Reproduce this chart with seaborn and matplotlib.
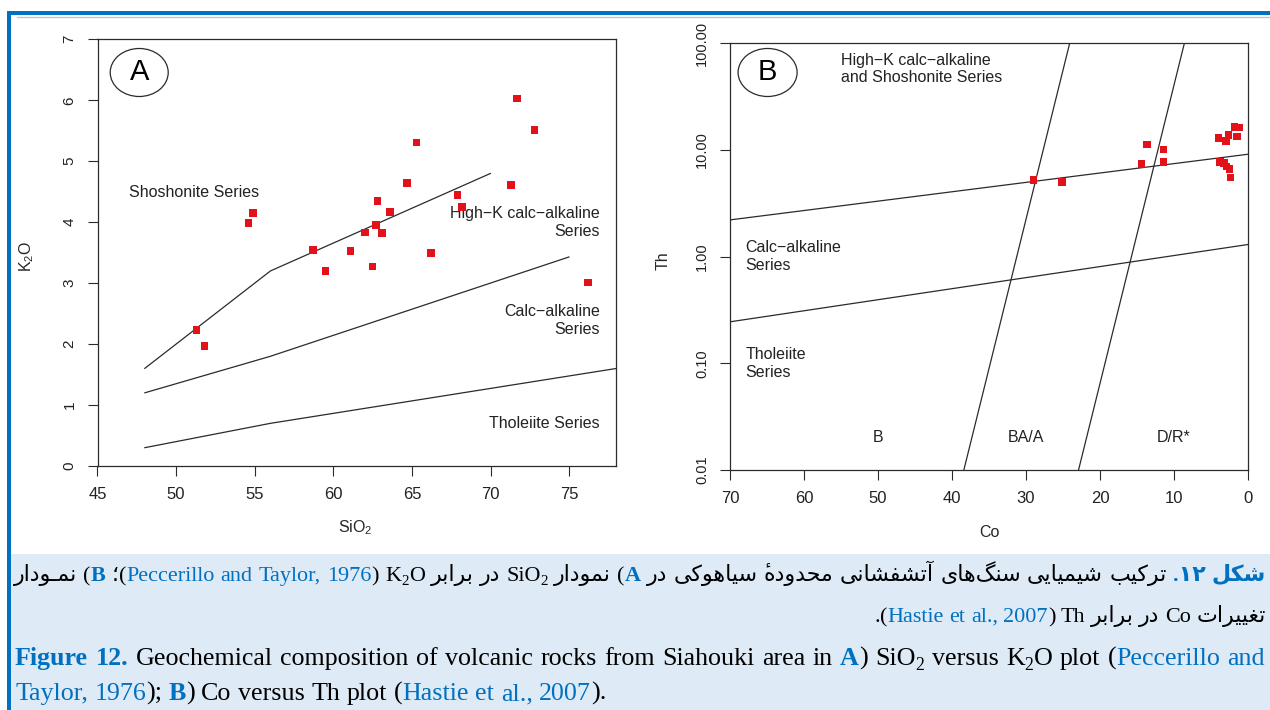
import numpy as np
import pandas as pd
import matplotlib
matplotlib.use("Agg")
import matplotlib.pyplot as plt
import seaborn as sns
from matplotlib.patches import Ellipse, Rectangle
from matplotlib.lines import Line2D
from matplotlib.ticker import NullLocator, FixedLocator, FixedFormatter

# ---------------- data ----------------
# Panel A : SiO2 vs K2O (Peccerillo & Taylor, 1976)
sio2 = [71.7, 72.8, 65.3, 64.7, 67.9, 68.2, 71.3, 62.8, 63.6, 54.9, 54.6,
        62.7, 62.0, 63.1, 58.7, 61.1, 66.2, 59.5, 62.5, 76.2, 51.3, 51.8]
k2o = [6.03, 5.51, 5.31, 4.64, 4.45, 4.25, 4.61, 4.35, 4.17, 4.15, 3.99,
       3.95, 3.83, 3.82, 3.54, 3.53, 3.49, 3.20, 3.27, 3.01, 2.23, 1.97]

shosh_x = [48, 56, 70]
shosh_y = [1.6, 3.2, 4.8]
highk_x = [48, 56, 75]
highk_y = [1.2, 1.8, 3.43]
thol_x = [48, 56, 78]
thol_y = [0.3, 0.7, 1.6]

# Panel B : Co vs Th (Hastie et al., 2007)
co = [29.0, 25.1, 14.4, 13.65, 11.4, 11.4, 4.0, 3.0, 2.65, 1.85, 1.25, 1.5,
      3.8, 3.24, 2.88, 2.52, 2.34]
th = [5.23, 4.98, 7.40, 11.3, 10.07, 7.67, 12.9, 12.2, 13.8, 16.5, 16.3, 13.4,
      7.76, 7.50, 6.98, 6.64, 5.50]

b1_co = [70, 0]
b1_th = [2.21, 9.12]
b2_co = [70, 0]
b2_th = [0.245, 1.3]
b3_co = [38.4, 24.1]
b3_th = [0.01, 100]
b4_co = [22.9, 8.6]
b4_th = [0.01, 100]

xticksA = [45, 50, 55, 60, 65, 70, 75]
yticksA = [0, 1, 2, 3, 4, 5, 6, 7]
xticksB = [70, 60, 50, 40, 30, 20, 10, 0]
yticksB = [0.01, 0.1, 1, 10, 100]
yticklabelsB = ["0.01", "0.10", "1.00", "10.00", "100.00"]

# ---------------- style ----------------
sns.set_style("white")
plt.rcParams['font.family'] = ['Liberation Sans', 'DejaVu Sans']
plt.rcParams['mathtext.fontset'] = 'custom'
plt.rcParams['mathtext.rm'] = 'Liberation Sans'
plt.rcParams['mathtext.it'] = 'Liberation Sans:italic'

RED = '#e3121a'
LINE = '#2b2b2b'
BLUE = '#0070C0'
W, H = 1270, 710

fig = plt.figure(figsize=(W / 100, H / 100), dpi=100)
fig.patch.set_facecolor('white')


def fx(px):
    return px / W


def fy(py):
    return 1 - py / H


# ---------------- page frame ----------------
fig.add_artist(Rectangle((fx(11), 0), (W - 11) / W, (H - 554) / H,
                         transform=fig.transFigure, color='#DEEAF6', lw=0, zorder=0))
fig.add_artist(Rectangle((fx(7), fy(15)), (W - 7) / W, 4 / H,
                         transform=fig.transFigure, color=BLUE, lw=0, zorder=1))
fig.add_artist(Rectangle((fx(7), 0), 4 / W, (H - 11) / H,
                         transform=fig.transFigure, color=BLUE, lw=0, zorder=1))
fig.add_artist(Line2D([fx(17), 1], [fy(16.8), fy(16.8)], transform=fig.transFigure,
                      color='#c4c4c4', lw=1.0, zorder=1))


def style_axes(ax):
    for sp in ax.spines.values():
        sp.set_visible(True)
        sp.set_color(LINE)
        sp.set_linewidth(0.9)
    ax.tick_params(axis='both', which='major', direction='out', length=7, width=0.8,
                   color=LINE, labelcolor='#222222', bottom=True, left=True)
    ax.tick_params(axis='x', labelsize=12, pad=8)
    ax.tick_params(axis='y', labelsize=11, pad=8, labelrotation=90)
    for lab in ax.get_yticklabels():
        lab.set_va('center')
    ax.set_facecolor('white')


# ---------------- Panel A ----------------
axA = fig.add_axes([fx(97.5), fy(466), (616.3 - 97.5) / W, (466 - 39.3) / H])
for xs, ys in [(shosh_x, shosh_y), (highk_x, highk_y), (thol_x, thol_y)]:
    sns.lineplot(x=xs, y=ys, ax=axA, color=LINE, lw=0.9, sort=False, estimator=None)
sns.scatterplot(x=sio2, y=k2o, ax=axA, marker='s', s=30, color=RED,
                edgecolor='none', linewidth=0, zorder=5)
axA.set_xlim(45, 78)
axA.set_ylim(0, 7)
axA.set_xticks(xticksA)
axA.set_yticks(yticksA)
axA.set_xticklabels([str(v) for v in xticksA])
axA.set_yticklabels([str(v) for v in yticksA])
style_axes(axA)
axA.set_xlabel('SiO$_2$', fontsize=11.5)
axA.set_ylabel('K$_2$O', fontsize=11.5)
axA.xaxis.set_label_coords(0.496, -0.122)
axA.yaxis.set_label_coords(-0.118, 0.49)

fsA = 11.5
axA.text(47.02, 4.49, 'Shoshonite Series', fontsize=fsA, ha='left', va='center', color='#222222')
axA.text(76.95, 3.995, 'High\u2212K calc\u2212alkaline\nSeries', fontsize=fsA, ha='right',
         va='center', multialignment='right', color='#222222')
axA.text(76.95, 2.39, 'Calc\u2212alkaline\nSeries', fontsize=fsA, ha='right',
         va='center', multialignment='right', color='#222222')
axA.text(76.95, 0.70, 'Tholeiite Series', fontsize=fsA, ha='right', va='center', color='#222222')
axA.add_patch(Ellipse((0.0804, 0.9222), 0.1118, 0.1125, transform=axA.transAxes,
                      fill=False, ec=LINE, lw=0.9))
axA.text(0.0804, 0.9222, 'A', transform=axA.transAxes, fontsize=21, ha='center',
         va='center', color='black')

# ---------------- Panel B ----------------
axB = fig.add_axes([fx(730), fy(470), (1248 - 730) / W, (470 - 43.3) / H])
for xs, ys in [(b1_co, b1_th), (b2_co, b2_th), (b3_co, b3_th), (b4_co, b4_th)]:
    sns.lineplot(x=xs, y=ys, ax=axB, color=LINE, lw=0.9, sort=False, estimator=None)
sns.scatterplot(x=co, y=th, ax=axB, marker='s', s=30, color=RED,
                edgecolor='none', linewidth=0, zorder=5)
axB.set_yscale('log')
axB.set_xlim(70, 0)
axB.set_ylim(0.01, 100)
axB.xaxis.set_major_locator(FixedLocator(xticksB))
axB.set_xticklabels([str(v) for v in xticksB])
axB.yaxis.set_major_locator(FixedLocator(yticksB))
axB.yaxis.set_major_formatter(FixedFormatter(yticklabelsB))
axB.yaxis.set_minor_locator(NullLocator())
style_axes(axB)
axB.tick_params(axis='y', labelsize=10.5)
axB.set_xlabel('Co', fontsize=11.5)
axB.set_ylabel('Th', fontsize=11.5)
axB.xaxis.set_label_coords(0.5, -0.128)
axB.yaxis.set_label_coords(-0.114, 0.49)

axB.text(54.95, 57.2, 'High\u2212K calc\u2212alkaline\nand Shoshonite Series', fontsize=fsA,
         ha='left', va='center', color='#222222')
axB.text(67.9, 1.0, 'Calc\u2212alkaline\nSeries', fontsize=fsA, ha='left', va='center',
         color='#222222')
axB.text(67.9, 0.1, 'Tholeiite\nSeries', fontsize=fsA, ha='left', va='center', color='#222222')
for cx, lab in [(50, 'B'), (30, 'BA/A'), (10, 'D/R*')]:
    axB.text(cx, 0.02, lab, fontsize=fsA, ha='center', va='center', color='#222222')
axB.add_patch(Ellipse((0.0726, 0.9316), 0.114, 0.1125, transform=axB.transAxes,
                      fill=False, ec=LINE, lw=0.9))
axB.text(0.0726, 0.9316, 'B', transform=axB.transAxes, fontsize=21, ha='center',
         va='center', color='black')

# ---------------- caption (Persian + English) ----------------
FORMS = {
    '\u0627': ('\uFE8D', '\uFE8E', None, None),          # alef
    '\u0622': ('\uFE81', '\uFE82', None, None),          # alef madda
    '\u0628': ('\uFE8F', '\uFE90', '\uFE91', '\uFE92'),  # beh
    '\u062A': ('\uFE95', '\uFE96', '\uFE97', '\uFE98'),  # teh
    '\u062D': ('\uFEA1', '\uFEA2', '\uFEA3', '\uFEA4'),  # hah
    '\u062F': ('\uFEA9', '\uFEAA', None, None),          # dal
    '\u0631': ('\uFEAD', '\uFEAE', None, None),          # reh
    '\u0633': ('\uFEB1', '\uFEB2', '\uFEB3', '\uFEB4'),  # seen
    '\u0634': ('\uFEB5', '\uFEB6', '\uFEB7', '\uFEB8'),  # sheen
    '\u063A': ('\uFECD', '\uFECE', '\uFECF', '\uFED0'),  # ghain
    '\u0641': ('\uFED1', '\uFED2', '\uFED3', '\uFED4'),  # feh
    '\u0644': ('\uFEDD', '\uFEDE', '\uFEDF', '\uFEE0'),  # lam
    '\u0645': ('\uFEE1', '\uFEE2', '\uFEE3', '\uFEE4'),  # meem
    '\u0646': ('\uFEE5', '\uFEE6', '\uFEE7', '\uFEE8'),  # noon
    '\u0647': ('\uFEE9', '\uFEEA', '\uFEEB', '\uFEEC'),  # heh
    '\u0648': ('\uFEED', '\uFEEE', None, None),          # waw
    '\u06A9': ('\uFB8E', '\uFB8F', '\uFB90', '\uFB91'),  # keheh
    '\u06AF': ('\uFB92', '\uFB93', '\uFB94', '\uFB95'),  # gaf
    '\u06CC': ('\uFBFC', '\uFBFD', '\uFBFE', '\uFBFF'),  # farsi yeh
    '\u0640': ('\u0640', '\u0640', '\u0640', '\u0640'),  # tatweel
}
MARKS = {'\u0654'}  # hamza above (ezafe sign), non-spacing


def fa(word):
    """Shape a Persian word with presentation forms and return it in visual order.
    A non-spacing mark is put just before its base in the visual string, so that
    it is drawn over it."""
    letters = [c for c in word if c not in MARKS]
    marks_after = {}
    idx = -1
    for c in word:
        if c in MARKS:
            marks_after.setdefault(idx, []).append(c)
        else:
            idx += 1
    clusters = []
    n = len(letters)
    for i, c in enumerate(letters):
        if c not in FORMS:
            g = '' if c == '\u200c' else c
        else:
            iso, fin, ini, med = FORMS[c]
            p = letters[i - 1] if i > 0 else None
            q = letters[i + 1] if i < n - 1 else None
            jp = p in FORMS and FORMS[p][2] is not None
            jn = ini is not None and q in FORMS
            g = med if (jp and jn) else fin if jp else ini if jn else iso
        clusters.append(''.join(marks_after.get(i, [])) + g)
    return ''.join(reversed(clusters))


def seg(text, color='black', bold=False, scale=1.0, dy=0.0):
    return dict(text=text, color=color, bold=bold, scale=scale, dy=dy)


def P(word, color='black', bold=False):
    return seg(fa(word), color, bold)


def SUB(t):
    return seg(t, scale=0.68, dy=0.2)


CAP_FAM = ['Liberation Serif', 'DejaVu Sans']

fa_line1 = [
    [P('نمـودار')],
    [seg('('), seg('B', BLUE, True)],
    [seg('؛'), seg('('), seg('Peccerillo', BLUE)],
    [seg('and', BLUE)],
    [seg('Taylor,', BLUE)],
    [seg('1976', BLUE), seg(')')],
    [seg('K'), SUB('2'), seg('O')],
    [P('برابر')],
    [P('در')],
    [seg('SiO'), SUB('2')],
    [P('نمودار')],
    [seg('('), seg('A', BLUE, True)],
    [P('در')],
    [P('سیاهوکی')],
    [P('محدوده\u0654')],
    [P('آتشفشانی')],
    [P('سنگ\u200cهای')],
    [P('شیمیایی')],
    [P('ترکیب')],
    [seg('.\u06F1\u06F2', BLUE, True)],
    [P('شکل', BLUE, True)],
]
fa_line2 = [
    [seg('.'), seg('('), seg('Hastie', BLUE)],
    [seg('et', BLUE)],
    [seg('al.,', BLUE)],
    [seg('2007', BLUE), seg(')')],
    [seg('Th')],
    [P('برابر')],
    [P('در')],
    [seg('Co')],
    [P('تغییرات')],
]
en_line1 = [
    [seg('Figure', BLUE, True)], [seg('12.', BLUE, True)],
    [seg('Geochemical')], [seg('composition')], [seg('of')], [seg('volcanic')],
    [seg('rocks')], [seg('from')], [seg('Siahouki')], [seg('area')], [seg('in')],
    [seg('A', BLUE, True), seg(')')],
    [seg('SiO'), SUB('2')], [seg('versus')],
    [seg('K'), SUB('2'), seg('O')], [seg('plot')],
    [seg('('), seg('Peccerillo', BLUE)], [seg('and', BLUE)],
]
en_line2 = [
    [seg('Taylor,', BLUE)], [seg('1976', BLUE), seg(');')],
    [seg('B', BLUE, True), seg(')')], [seg('Co')], [seg('versus')], [seg('Th')],
    [seg('plot')], [seg('('), seg('Hastie', BLUE)], [seg('et', BLUE)],
    [seg('al.,', BLUE)], [seg('2007', BLUE), seg(').')],
]

renderer = fig.canvas.get_renderer()


def build(words, size):
    arts, widths = [], []
    em = size * 100 / 72
    for w in words:
        items, tot = [], 0.0
        for s in w:
            t = fig.text(0, 0, s['text'], fontsize=size * s['scale'], family=CAP_FAM,
                         fontweight='bold' if s['bold'] else 'normal', color=s['color'],
                         ha='left', va='baseline', zorder=3)
            wpx = t.get_window_extent(renderer).width
            items.append((t, tot, s['dy'] * em))
            tot += wpx
        arts.append(items)
        widths.append(tot)
    return arts, widths


def natural_width(words, size):
    arts, widths = build(words, size)
    for items in arts:
        for t, _, _ in items:
            t.remove()
    return sum(widths) + 0.25 * size * 100 / 72 * (len(words) - 1)


def place(words, size, baseline, x0, x1, align):
    arts, widths = build(words, size)
    space = 0.25 * size * 100 / 72
    n = len(arts)
    if align == 'justify':
        gap = (x1 - x0 - sum(widths)) / (n - 1)
        x = x0
    elif align == 'left':
        gap, x = space, x0
    else:
        gap = space
        x = x1 - sum(widths) - gap * (n - 1)
    for items, w in zip(arts, widths):
        for t, off, dy in items:
            t.set_position((fx(x + off), fy(baseline + dy)))
        x += w + gap


def fit_size(words, target, base=16.0, lo=12.0, hi=19.5):
    nw = natural_width(words, base)
    return max(lo, min(hi, base * 0.99 * target / nw))


fs_fa = fit_size(fa_line1, 1266 - 14)
fs_en = fit_size(en_line1, 1265 - 15)
place(fa_line1, fs_fa, 581, 14, 1266, 'justify')
place(fa_line2, fs_fa, 622, 14, 1266, 'right')
place(en_line1, fs_en, 665, 15, 1265, 'justify')
place(en_line2, fs_en, 700, 15, 1265, 'left')

fig.savefig('out.png', dpi=100)
